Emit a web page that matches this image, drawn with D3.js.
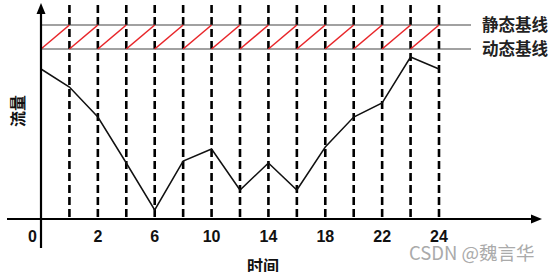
<!DOCTYPE html>
<html><head><meta charset="utf-8">
<script src="https://cdn.jsdelivr.net/npm/d3@7"></script>
<style>body{margin:0;background:#fff}svg{display:block}</style>
</head><body>
<svg id="c" width="553" height="272"></svg>
<script>
// slot index 0..14 (0 = origin, 1..14 = dashed time marks)
const slots = d3.range(0, 15);
const tickSlots = [0, 2, 4, 6, 8, 10, 12, 14];
const tickLabels = ["0", "2", "6", "10", "14", "18", "22", "24"];
const flow = [75, 66, 51, 28, 4.5, 29, 35, 14.5, 28, 14.5, 36, 51, 58, 81, 75];
const staticBase = 97;
const dynamicBase = 85;
const baseLabels = ["静态基线", "动态基线"];
const xTitle = "时间", yTitle = "流量";

const svg = d3.select("#c");
const x = d3.scaleLinear().domain([0, 14]).range([41, 439]);
const y = d3.scaleLinear().domain([0, 100]).range([219, 19]);

// dashed verticals
svg.append("g").selectAll("line").data(slots.slice(1)).join("line")
  .attr("x1", d => x(d)).attr("x2", d => x(d))
  .attr("y1", 5).attr("y2", y(0))
  .attr("stroke", "#000").attr("stroke-width", 2.6)
  .attr("stroke-dasharray", "8,4");

// baselines
const bases = [staticBase, dynamicBase];
svg.append("g").selectAll("line").data(bases).join("line")
  .attr("x1", x(0)).attr("x2", 471)
  .attr("y1", d => y(d)).attr("y2", d => y(d))
  .attr("stroke", "#444").attr("stroke-width", 1.2);
svg.append("g").selectAll("text").data(baseLabels).join("text")
  .attr("x", 482).attr("y", (d, i) => y(bases[i]))
  .attr("dy", "0.36em")
  .attr("font-family", "Noto Sans CJK SC").attr("font-weight", "bold")
  .attr("font-size", 16.5).attr("fill", "#222").text(d => d);

// red diagonals
svg.append("g").selectAll("line").data(slots.slice(0, 14)).join("line")
  .attr("x1", d => x(d)).attr("x2", d => x(d + 1))
  .attr("y1", y(dynamicBase)).attr("y2", y(staticBase))
  .attr("stroke", "#e8262a").attr("stroke-width", 1.6);

// flow line
svg.append("path").datum(flow)
  .attr("d", d3.line().x((d, i) => x(slots[i])).y(d => y(d)))
  .attr("fill", "none").attr("stroke", "#111").attr("stroke-width", 1.5);

// axes
svg.append("line").attr("x1", 7).attr("x2", 536).attr("y1", y(0)).attr("y2", y(0))
  .attr("stroke", "#000").attr("stroke-width", 2.2);
svg.append("path").attr("d", `M542,${y(0)} L531,${y(0) - 4.5} L531,${y(0) + 4.5} Z`).attr("fill", "#000");
svg.append("line").attr("x1", x(0)).attr("x2", x(0)).attr("y1", 12).attr("y2", 248)
  .attr("stroke", "#000").attr("stroke-width", 2.2);
svg.append("path").attr("d", `M${x(0)},3 L${x(0) - 4.5},14 L${x(0) + 4.5},14 Z`).attr("fill", "#000");

// tick labels
svg.append("g").selectAll("text").data(tickSlots).join("text")
  .attr("x", (d, i) => i === 0 ? x(d) - 4 : x(d))
  .attr("y", 236).attr("dy", "0.36em")
  .attr("text-anchor", (d, i) => i === 0 ? "end" : "middle")
  .attr("font-family", "Liberation Sans, Arial").attr("font-weight", "bold")
  .attr("font-size", 16).attr("fill", "#111")
  .text((d, i) => tickLabels[i]);

// titles
svg.append("text").attr("x", 263).attr("y", 266).attr("dy", "0.36em")
  .attr("text-anchor", "middle").attr("font-family", "Noto Sans CJK SC")
  .attr("font-weight", "bold").attr("font-size", 16).attr("fill", "#111").text(xTitle);
svg.append("text").attr("transform", "translate(18,111) rotate(-90)")
  .attr("dy", "0.36em").attr("text-anchor", "middle").attr("font-family", "Noto Sans CJK SC")
  .attr("font-weight", "bold").attr("font-size", 16).attr("fill", "#111").text(yTitle);

// watermark
svg.append("text").attr("x", 409).attr("y", 253).attr("dy", "0.36em")
  .attr("font-family", "Noto Sans CJK SC").attr("font-size", 18.5).attr("fill", "#aaa")
  .text("CSDN @魏言华");
</script>
</body></html>
